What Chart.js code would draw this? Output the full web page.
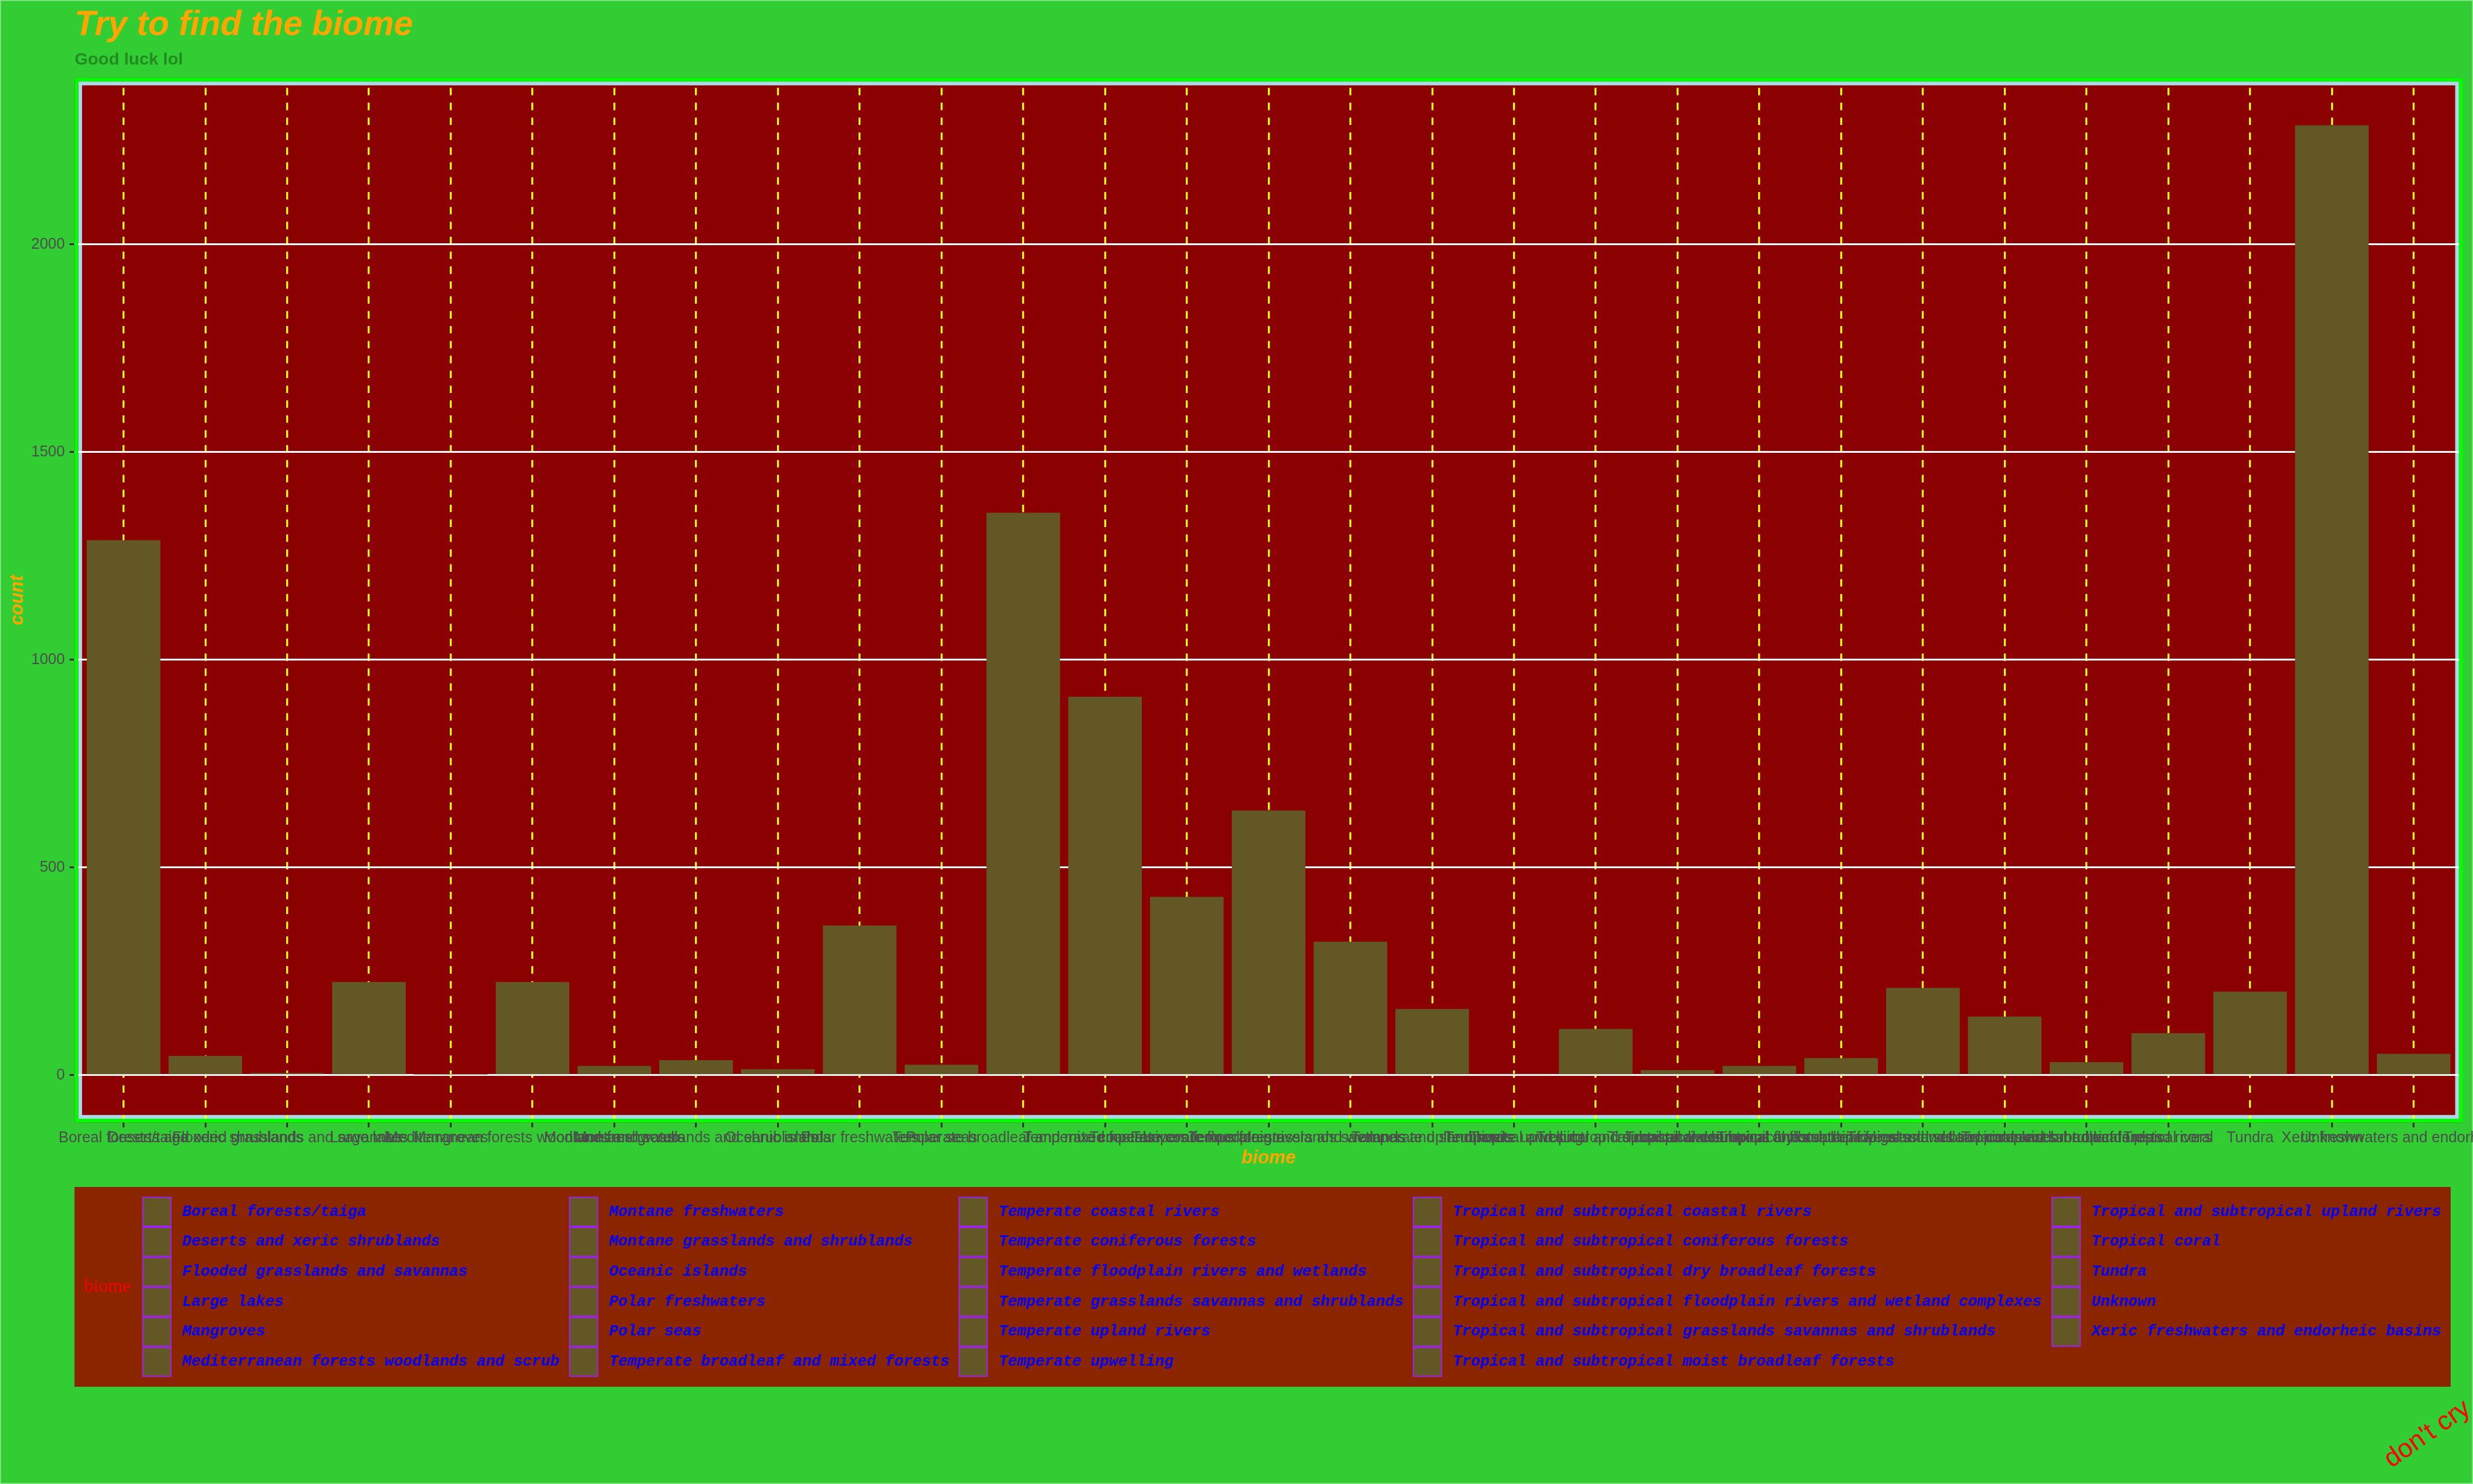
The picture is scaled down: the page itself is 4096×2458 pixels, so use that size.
<!DOCTYPE html>
<html>
<head>
<meta charset="utf-8">
<script src="https://cdn.jsdelivr.net/npm/chart.js@4.4.1/dist/chart.umd.min.js"></script>
<style>
html,body{margin:0;padding:0;background:#32CD32;overflow:hidden}
canvas{display:block}
</style>
</head>
<body>
<canvas id="c" width="4096" height="2458" style="width:4096px;height:2458px"></canvas>
<script>
// ---------------- data ----------------
const biomes = [
  "Boreal forests/taiga",
  "Deserts and xeric shrublands",
  "Flooded grasslands and savannas",
  "Large lakes",
  "Mangroves",
  "Mediterranean forests woodlands and scrub",
  "Montane freshwaters",
  "Montane grasslands and shrublands",
  "Oceanic islands",
  "Polar freshwaters",
  "Polar seas",
  "Temperate broadleaf and mixed forests",
  "Temperate coastal rivers",
  "Temperate coniferous forests",
  "Temperate floodplain rivers and wetlands",
  "Temperate grasslands savannas and shrublands",
  "Temperate upland rivers",
  "Temperate upwelling",
  "Tropical and subtropical coastal rivers",
  "Tropical and subtropical coniferous forests",
  "Tropical and subtropical dry broadleaf forests",
  "Tropical and subtropical floodplain rivers and wetland complexes",
  "Tropical and subtropical grasslands savannas and shrublands",
  "Tropical and subtropical moist broadleaf forests",
  "Tropical and subtropical upland rivers",
  "Tropical coral",
  "Tundra",
  "Unknown",
  "Xeric freshwaters and endorheic basins"
];
const counts = [
  1288, 46, 5, 224, 1, 224, 22, 36, 14, 360,
  25, 1354, 911, 429, 637, 321, 159, 3, 111, 12,
  22, 41, 210, 141, 31, 101, 201, 2287, 51
];
const yTickValues = [0, 500, 1000, 1500, 2000];
const titleText = "Try to find the biome";
const subtitleText = "Good luck lol";
const xTitleText = "biome";
const yTitleText = "count";
const legendTitleText = "biome";
const captionText = "don't cry";

// ---------------- layout / style ----------------
const W = 4096, H = 2458;
const PANEL = { l: 123.4, t: 128.9, r: 4079.0, b: 1859.3 };
const BG = '#32CD32';
const BAR = '#635725';
const SANS = '"Liberation Sans", Arial, Helvetica, sans-serif';
const MONO = '"Liberation Mono", "Courier New", monospace';
const SERIF = '"Liberation Serif", "Times New Roman", serif';
const DASH = 12.33, GAP = 12.33;
const dashOffset = DASH - ((PANEL.b - PANEL.t) % (DASH + GAP));
const LIME_W = 6.2, BLUE_W = 6.3;

const LEG = { l: 123.4, t: 1966.0, r: 4059.0, b: 2297.0 };
const LEG_COLS = [235.6, 942.5, 1587.7, 2339.9, 3397.8];
const LEG_ROWS = 6;
const KEY_TOP = 1982.3, KEY_W = 48.5, KEY_H = 49.7, KEY_TEXT_DX = 66.5;

const yMaxData = Math.max(...counts);
const yLo = -0.05 * yMaxData, yHi = 1.05 * yMaxData;
const xLo = 0.4, xHi = biomes.length + 0.6;

const themePlugin = {
  id: 'theme',
  beforeDraw(chart) {
    const c = chart.ctx, a = chart.chartArea;
    const w = a.right - a.left, h = a.bottom - a.top;
    c.save();
    c.fillStyle = BG;
    c.fillRect(0, 0, W, H);
    c.strokeStyle = '#8ee88e';
    c.lineWidth = 1.5;
    c.strokeRect(0.75, 0.75, W - 1.5, H - 1.5);
    c.fillStyle = '#8B0000';
    c.fillRect(a.left, a.top, w, h);
    const ins = LIME_W + BLUE_W / 2;
    c.strokeStyle = '#ADD8E6';
    c.lineWidth = BLUE_W;
    c.strokeRect(a.left + ins, a.top + ins, w - 2 * ins, h - 2 * ins);
    c.restore();
  },
  afterDatasetsDraw(chart) {
    const c = chart.ctx, a = chart.chartArea;
    c.save();
    c.strokeStyle = '#00FF00';
    c.lineWidth = LIME_W;
    c.strokeRect(a.left + LIME_W / 2, a.top + LIME_W / 2,
      a.right - a.left - LIME_W, a.bottom - a.top - LIME_W);
    c.restore();
  },
  afterDraw(chart) {
    const c = chart.ctx, a = chart.chartArea;
    c.save();
    // title & subtitle
    c.textAlign = 'left';
    c.textBaseline = 'alphabetic';
    c.fillStyle = '#FFA500';
    c.font = 'italic bold 56.8px ' + SANS;
    c.fillText(titleText, 123.4, 57.5);
    c.fillStyle = '#228B22';
    c.font = 'bold 28.4px ' + SANS;
    c.fillText(subtitleText, 123.4, 106.7);
    // axis titles
    c.fillStyle = '#FFA500';
    c.font = 'italic bold 30.5px ' + SANS;
    c.textAlign = 'center';
    c.fillText(xTitleText, (a.left + a.right) / 2, 1926.5);
    c.save();
    c.translate(38.1, (a.top + a.bottom) / 2);
    c.rotate(-Math.PI / 2);
    c.fillText(yTitleText, 0, 0);
    c.restore();
    // legend
    c.fillStyle = '#8B2500';
    c.fillRect(LEG.l, LEG.t, LEG.r - LEG.l, LEG.b - LEG.t);
    c.fillStyle = '#FF0000';
    c.font = '31px ' + SERIF;
    c.textAlign = 'left';
    c.textBaseline = 'middle';
    c.fillText(legendTitleText, 139.3, (LEG.t + LEG.b) / 2);
    biomes.forEach((name, i) => {
      const col = Math.floor(i / LEG_ROWS), row = i % LEG_ROWS;
      const kx = LEG_COLS[col], ky = KEY_TOP + row * KEY_H;
      c.fillStyle = BAR;
      c.fillRect(kx, ky, KEY_W, KEY_H);
      c.strokeStyle = '#A020F0';
      c.lineWidth = 2;
      c.strokeRect(kx + 1, ky + 1, KEY_W - 2, KEY_H - 2);
      c.fillStyle = '#0000FF';
      c.font = 'italic bold 25.4px ' + MONO;
      c.fillText(name, kx + KEY_TEXT_DX, ky + KEY_H / 2);
    });
    // caption
    c.save();
    c.translate(3960.8, 2432.0);
    c.rotate(-35 * Math.PI / 180);
    c.fillStyle = '#FF0000';
    c.font = '43.4px ' + SANS;
    c.textAlign = 'left';
    c.textBaseline = 'alphabetic';
    c.fillText(captionText, 0, 0);
    c.restore();
    c.restore();
  }
};

new Chart(document.getElementById('c'), {
  type: 'bar',
  data: {
    labels: biomes,
    datasets: [{
      label: 'count',
      data: counts.map((v, i) => ({ x: i + 1, y: v })),
      backgroundColor: BAR,
      borderWidth: 0,
      barPercentage: 0.9,
      categoryPercentage: 1.0
    }]
  },
  options: {
    responsive: false,
    maintainAspectRatio: false,
    animation: false,
    devicePixelRatio: 1,
    events: [],
    layout: { padding: { left: 0, top: PANEL.t, right: W - PANEL.r, bottom: 0 } },
    plugins: {
      legend: { display: false },
      tooltip: { enabled: false },
      title: { display: false }
    },
    scales: {
      x: {
        type: 'linear',
        min: xLo,
        max: xHi,
        offset: false,
        grid: {
          offset: false,
          color: '#FFFF00',
          lineWidth: 3.2,
          drawTicks: true,
          tickLength: 8,
          tickColor: '#333333',
          tickWidth: 3
        },
        border: { display: false, dash: [DASH, GAP], dashOffset: dashOffset },
        ticks: {
          autoSkip: false,
          maxRotation: 0,
          minRotation: 0,
          padding: 3,
          color: '#4D4D4D',
          font: { family: SANS, size: 25 },
          callback: (v) => (Number.isInteger(v) && biomes[v - 1]) ? biomes[v - 1] : ''
        },
        afterBuildTicks(scale) {
          scale.ticks = biomes.map((b, i) => ({ value: i + 1 }));
        },
        afterFit(scale) {
          scale.height = H - PANEL.b;
          scale.paddingLeft = 0;
          scale.paddingRight = 0;
        }
      },
      y: {
        min: yLo,
        max: yHi,
        grid: {
          color: '#FFFFFF',
          lineWidth: 3,
          drawTicks: true,
          tickLength: 8,
          tickColor: '#333333',
          tickWidth: 3
        },
        border: { display: false },
        ticks: {
          padding: 8,
          color: '#4D4D4D',
          font: { family: SANS, size: 25 },
          callback: (v) => String(v)
        },
        afterBuildTicks(scale) {
          scale.ticks = yTickValues.map(v => ({ value: v }));
        },
        afterFit(scale) {
          scale.width = PANEL.l;
        }
      }
    }
  },
  plugins: [themePlugin]
});
</script>
</body>
</html>
